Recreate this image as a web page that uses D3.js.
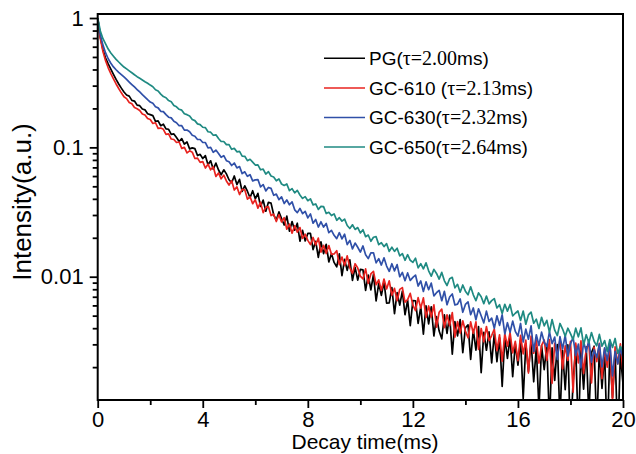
<!DOCTYPE html>
<html><head><meta charset="utf-8">
<script src="https://cdn.jsdelivr.net/npm/d3@7"></script>
<style>
html,body{margin:0;padding:0;background:#fff;}
svg{display:block;}
</style></head>
<body>
<svg id="chart" width="636" height="454"></svg>
<script>
// ---- data (time grid 0..20 ms, step 0.1 ms) ----
const timeMs = d3.range(0, 201).map(i => i / 10);

const seriesNames = ["PG", "GC-610", "GC-630", "GC-650"];
const legendLabels = [
  ["PG(", "τ=2.00", "ms)"],
  ["GC-610 (", "τ=2.13", "ms)"],
  ["GC-630(", "τ=2.32", "ms)"],
  ["GC-650(", "τ=2.64", "ms)"]
];
const seriesColors = ["#000000", "#e8231f", "#3050a8", "#1f8a82"];

const pgValues = [
1, 0.708, 0.569, 0.490, 0.442, 0.403, 0.367, 0.335, 0.309, 0.287, 0.268,
0.254, 0.249, 0.231, 0.228, 0.212, 0.210, 0.198, 0.195, 0.182, 0.179,
0.176, 0.159, 0.160, 0.147, 0.151, 0.139, 0.138, 0.126, 0.127, 0.119,
0.111, 0.117, 0.106, 0.110, 0.0973, 0.0991, 0.0977, 0.0865, 0.0883, 0.0820,
0.0863, 0.0735, 0.0787, 0.0678, 0.0755, 0.0668, 0.0614, 0.0671, 0.0624, 0.0562,
0.0533, 0.0601, 0.0516, 0.0566, 0.0456, 0.0504, 0.0458, 0.0408, 0.0462, 0.0400,
0.0441, 0.0349, 0.0391, 0.0321, 0.0376, 0.0371, 0.0301, 0.0274, 0.0317, 0.0282,
0.0251, 0.0294, 0.0225, 0.0267, 0.0229, 0.0259, 0.0188, 0.0228, 0.0189, 0.0216,
0.0216, 0.0162, 0.0188, 0.0141, 0.0186, 0.0151, 0.0178, 0.0130, 0.0151, 0.0129,
0.0119, 0.0150, 0.0102, 0.0136, 0.0112, 0.0135, 0.00938, 0.0118, 0.00942, 0.0114,
0.0113, 0.00783, 0.0103, 0.00791, 0.0104, 0.00649, 0.00889, 0.00718, 0.00908, 0.00624,
0.00628, 0.00824, 0.00518, 0.00753, 0.00603, 0.00773, 0.00508, 0.00659, 0.00419, 0.00653,
0.00652, 0.00435, 0.00585, 0.00360, 0.00596, 0.00431, 0.00586, 0.00348, 0.00491, 0.00380,
0.00331, 0.00508, 0.00364, 0.00504, 0.00252, 0.00450, 0.00349, 0.00467, 0.00259, 0.00403,
0.00424, 0.00229, 0.00390, 0.00271, 0.00412, 0.00181, 0.00371, 0.00270, 0.00374, 0.00216,
0.00362, 0.00220, 0.00337, 0.00142, 0.00339, 0.00234, 0.00341, 0.00169, 0.00303, 0.00207,
0.00324, 0.00114, 0.00303, 0.00185, 0.00318, 0.00154, 0.00284, 0.00095, 0.00294, 0.00191,
0.00300, 0.00073, 0.00282, 0.00158, 0.00299, 0.00080, 0.00269, 0.00134, 0.00297, 0.00055,
0.00154, 0.00286, 0.00061, 0.00270, 0.00135, 0.00287, 0.00084, 0.00259, 0.00290, 0.00066,
0.00275, 0.00137, 0.00261, 0.00052, 0.00279, 0.00116, 0.00265, 0.00052, 0.00252, 0.00148
];

const gc610Values = [
1, 0.692, 0.550, 0.468, 0.412, 0.372, 0.339, 0.309, 0.285, 0.264, 0.246,
0.238, 0.222, 0.217, 0.203, 0.199, 0.193, 0.181, 0.178, 0.167, 0.164,
0.153, 0.155, 0.140, 0.141, 0.138, 0.126, 0.127, 0.116, 0.115, 0.109,
0.110, 0.0982, 0.100, 0.0906, 0.0940, 0.0918, 0.0820, 0.0826, 0.0766, 0.0776,
0.0692, 0.0741, 0.0671, 0.0708, 0.0596, 0.0634, 0.0571, 0.0610, 0.0550, 0.0511,
0.0553, 0.0468, 0.0495, 0.0432, 0.0473, 0.0470, 0.0398, 0.0415, 0.0367, 0.0394,
0.0339, 0.0377, 0.0313, 0.0344, 0.0348, 0.0297, 0.0304, 0.0267, 0.0301, 0.0265,
0.0286, 0.0233, 0.0255, 0.0217, 0.0248, 0.0221, 0.0240, 0.0198, 0.0213, 0.0191,
0.0177, 0.0201, 0.0176, 0.0199, 0.0155, 0.0175, 0.0151, 0.0174, 0.0149, 0.0150,
0.0159, 0.0124, 0.0142, 0.0122, 0.0145, 0.0117, 0.0106, 0.0126, 0.0117, 0.0101,
0.00962, 0.0115, 0.00889, 0.0105, 0.0110, 0.00867, 0.00946, 0.00783, 0.00959, 0.00804,
0.00929, 0.00719, 0.00813, 0.00652, 0.00798, 0.00824, 0.00637, 0.00665, 0.00743, 0.00603,
0.00548, 0.00689, 0.00572, 0.00686, 0.00484, 0.00594, 0.00488, 0.00605, 0.00408, 0.00531,
0.00562, 0.00404, 0.00508, 0.00419, 0.00527, 0.00341, 0.00450, 0.00366, 0.00456, 0.00380,
0.00337, 0.00447, 0.00365, 0.00447, 0.00274, 0.00398, 0.00314, 0.00412, 0.00321, 0.00351,
0.00393, 0.00268, 0.00356, 0.00222, 0.00363, 0.00291, 0.00370, 0.00258, 0.00317, 0.00224,
0.00352, 0.00253, 0.00323, 0.00180, 0.00348, 0.00256, 0.00324, 0.00215, 0.00294, 0.00324,
0.00225, 0.00327, 0.00150, 0.00305, 0.00241, 0.00327, 0.00194, 0.00292, 0.00225, 0.00316,
0.00128, 0.00307, 0.00216, 0.00319, 0.00179, 0.00276, 0.00305, 0.00151, 0.00286, 0.00221,
0.00305, 0.00163, 0.00277, 0.00200, 0.00309, 0.00109, 0.00287, 0.00212, 0.00303, 0.00184
];

const gc630Values = [
1, 0.741, 0.617, 0.537, 0.484, 0.447, 0.419, 0.398, 0.380, 0.365, 0.350,
0.335, 0.320, 0.306, 0.293, 0.280, 0.268, 0.256, 0.245, 0.234, 0.224,
0.219, 0.206, 0.202, 0.190, 0.189, 0.179, 0.171, 0.169, 0.159, 0.155,
0.147, 0.147, 0.136, 0.136, 0.132, 0.124, 0.122, 0.115, 0.115, 0.109,
0.109, 0.0989, 0.100, 0.0916, 0.0953, 0.0897, 0.0838, 0.0863, 0.0789, 0.0773,
0.0724, 0.0757, 0.0693, 0.0711, 0.0627, 0.0647, 0.0597, 0.0615, 0.0551, 0.0561,
0.0564, 0.0495, 0.0516, 0.0461, 0.0490, 0.0482, 0.0426, 0.0435, 0.0394, 0.0414,
0.0368, 0.0392, 0.0360, 0.0379, 0.0329, 0.0313, 0.0337, 0.0307, 0.0320, 0.0285,
0.0306, 0.0259, 0.0277, 0.0242, 0.0266, 0.0242, 0.0258, 0.0219, 0.0228, 0.0209,
0.0197, 0.0219, 0.0196, 0.0213, 0.0177, 0.0191, 0.0164, 0.0182, 0.0169, 0.0155,
0.0173, 0.0148, 0.0138, 0.0153, 0.0153, 0.0128, 0.0138, 0.0123, 0.0140, 0.0121,
0.0110, 0.0126, 0.0111, 0.0124, 0.0100, 0.0108, 0.00931, 0.0107, 0.00935, 0.00989,
0.0103, 0.00847, 0.00927, 0.00769, 0.00912, 0.00793, 0.00893, 0.00711, 0.00752, 0.00785,
0.00652, 0.00771, 0.00607, 0.00697, 0.00736, 0.00605, 0.00614, 0.00673, 0.00531, 0.00610,
0.00638, 0.00508, 0.00573, 0.00465, 0.00565, 0.00499, 0.00440, 0.00542, 0.00451, 0.00479,
0.00399, 0.00499, 0.00421, 0.00508, 0.00361, 0.00441, 0.00372, 0.00454, 0.00378, 0.00347,
0.00435, 0.00313, 0.00393, 0.00329, 0.00417, 0.00265, 0.00356, 0.00294, 0.00373, 0.00313,
0.00288, 0.00375, 0.00304, 0.00341, 0.00228, 0.00344, 0.00276, 0.00352, 0.00243, 0.00302,
0.00340, 0.00247, 0.00301, 0.00197, 0.00316, 0.00261, 0.00325, 0.00218, 0.00272, 0.00237,
0.00303, 0.00201, 0.00282, 0.00225, 0.00309, 0.00171, 0.00265, 0.00212, 0.00281, 0.00234
];

const gc650Values = [
1, 0.794, 0.692, 0.631, 0.575, 0.537, 0.507, 0.479, 0.457, 0.437, 0.418,
0.404, 0.390, 0.377, 0.364, 0.352, 0.342, 0.332, 0.322, 0.313, 0.303,
0.294, 0.279, 0.273, 0.258, 0.247, 0.242, 0.230, 0.225, 0.211, 0.206,
0.197, 0.194, 0.182, 0.179, 0.175, 0.164, 0.161, 0.152, 0.150, 0.143,
0.142, 0.132, 0.131, 0.124, 0.125, 0.117, 0.111, 0.111, 0.105, 0.105,
0.0966, 0.0982, 0.0923, 0.0931, 0.0855, 0.0853, 0.0789, 0.0809, 0.0769, 0.0730,
0.0733, 0.0671, 0.0679, 0.0622, 0.0649, 0.0600, 0.0590, 0.0552, 0.0570, 0.0521,
0.0508, 0.0521, 0.0463, 0.0480, 0.0445, 0.0465, 0.0428, 0.0403, 0.0416, 0.0387,
0.0400, 0.0359, 0.0365, 0.0331, 0.0350, 0.0348, 0.0308, 0.0315, 0.0297, 0.0306,
0.0273, 0.0286, 0.0269, 0.0279, 0.0249, 0.0236, 0.0252, 0.0232, 0.0240, 0.0218,
0.0231, 0.0204, 0.0210, 0.0188, 0.0202, 0.0204, 0.0177, 0.0183, 0.0171, 0.0180,
0.0157, 0.0169, 0.0157, 0.0166, 0.0145, 0.0151, 0.0134, 0.0148, 0.0134, 0.0129,
0.0139, 0.0117, 0.0126, 0.0115, 0.0128, 0.0111, 0.0101, 0.0114, 0.0106, 0.00959,
0.0108, 0.00929, 0.00855, 0.00964, 0.00989, 0.00820, 0.00873, 0.00759, 0.00863, 0.00773,
0.00724, 0.00836, 0.00724, 0.00653, 0.00750, 0.00700, 0.00619, 0.00708, 0.00617, 0.00653,
0.00678, 0.00573, 0.00608, 0.00520, 0.00612, 0.00542, 0.00610, 0.00498, 0.00522, 0.00543,
0.00459, 0.00543, 0.00429, 0.00507, 0.00533, 0.00437, 0.00470, 0.00398, 0.00486, 0.00417,
0.00460, 0.00372, 0.00467, 0.00386, 0.00351, 0.00435, 0.00394, 0.00346, 0.00400, 0.00363,
0.00326, 0.00400, 0.00343, 0.00402, 0.00297, 0.00356, 0.00308, 0.00370, 0.00317, 0.00292,
0.00358, 0.00290, 0.00321, 0.00264, 0.00327, 0.00284, 0.00333, 0.00255, 0.00289, 0.00263
];

const xMajorTicks = [0, 4, 8, 12, 16, 20];
const xMinorTicks = [2, 6, 10, 14, 18];
const yMajorTicks = [1, 0.1, 0.01];
const yMajorLabels = ["1", "0.1", "0.01"];
const yMinorTicks = [0.9,0.8,0.7,0.6,0.5,0.4,0.3,0.2,
                     0.09,0.08,0.07,0.06,0.05,0.04,0.03,0.02,
                     0.009,0.008,0.007,0.006,0.005,0.004,0.003,0.002];
const xTitle = "Decay time(ms)";
const yTitle = "Intensity(a.u.)";

// ---- layout ----
const svg = d3.select("#chart");
const L = 97.7, R = 623, T = 14, B = 400;
const x = d3.scaleLinear().domain([0, 20]).range([L, R]);
const y = d3.scaleLog().domain([0.001114, 1.074]).range([B, T]);
const sans = "'Liberation Sans', Arial, Helvetica, sans-serif";
const serif = "'Liberation Serif', 'Times New Roman', Times, serif";

svg.append("defs").append("clipPath").attr("id", "plotclip")
  .append("rect").attr("x", L).attr("y", T).attr("width", R - L).attr("height", B - T);

// data lines
const allSeries = [pgValues, gc610Values, gc630Values, gc650Values];
const line = d3.line().x((d, i) => x(timeMs[i])).y(d => y(d));
const plot = svg.append("g").attr("clip-path", "url(#plotclip)");
allSeries.forEach((vals, k) => {
  plot.append("path").datum(vals)
    .attr("d", line)
    .attr("fill", "none")
    .attr("stroke", seriesColors[k])
    .attr("stroke-width", 1.7)
    .attr("stroke-linejoin", "round");
});

// axes
function styleAxis(g) {
  g.selectAll("path.domain").remove();
  g.selectAll("line").attr("stroke", "#000").attr("stroke-width", 1.8);
  g.selectAll("text").attr("font-family", sans).attr("font-size", 22).attr("fill", "#000");
}
const xAxisMajor = svg.append("g").attr("transform", `translate(0,${B})`)
  .call(d3.axisBottom(x).tickValues(xMajorTicks).tickSize(8).tickFormat(d3.format("d")));
styleAxis(xAxisMajor);
xAxisMajor.selectAll("text").attr("dy", null).attr("y", 26.5);
const xAxisMinor = svg.append("g").attr("transform", `translate(0,${B})`)
  .call(d3.axisBottom(x).tickValues(xMinorTicks).tickSize(5).tickFormat(""));
styleAxis(xAxisMinor);

const yAxisMajor = svg.append("g").attr("transform", `translate(${L},0)`)
  .call(d3.axisLeft(y).tickValues(yMajorTicks).tickSize(8)
        .tickFormat((d, i) => yMajorLabels[i]).tickPadding(6));
styleAxis(yAxisMajor);
const yAxisMinor = svg.append("g").attr("transform", `translate(${L},0)`)
  .call(d3.axisLeft(y).tickValues(yMinorTicks).tickSize(5).tickFormat(""));
styleAxis(yAxisMinor);

// frame
svg.append("rect").attr("x", L).attr("y", T).attr("width", R - L).attr("height", B - T)
  .attr("fill", "none").attr("stroke", "#000").attr("stroke-width", 2);

// axis titles
svg.append("text").attr("x", 365).attr("y", 448.5)
  .attr("text-anchor", "middle").attr("font-family", sans).attr("font-size", 21)
  .text(xTitle);
svg.append("text").attr("transform", `translate(31,202) rotate(-90)`)
  .attr("text-anchor", "middle").attr("font-family", sans).attr("font-size", 26)
  .text(yTitle);

// legend
const lg = svg.append("g");
const rowY = [58.3, 88, 117.5, 147];
seriesNames.forEach((n, k) => {
  lg.append("line").attr("x1", 324).attr("x2", 365).attr("y1", rowY[k]).attr("y2", rowY[k])
    .attr("stroke", seriesColors[k]).attr("stroke-width", 1.6);
  const t = lg.append("text").attr("x", 369).attr("y", rowY[k] + 6.8)
    .attr("font-family", sans).attr("font-size", 19);
  t.append("tspan").text(legendLabels[k][0]);
  t.append("tspan").attr("font-family", serif).attr("font-size", 20).text(legendLabels[k][1]);
  t.append("tspan").text(legendLabels[k][2]);
});
</script>
</body></html>
